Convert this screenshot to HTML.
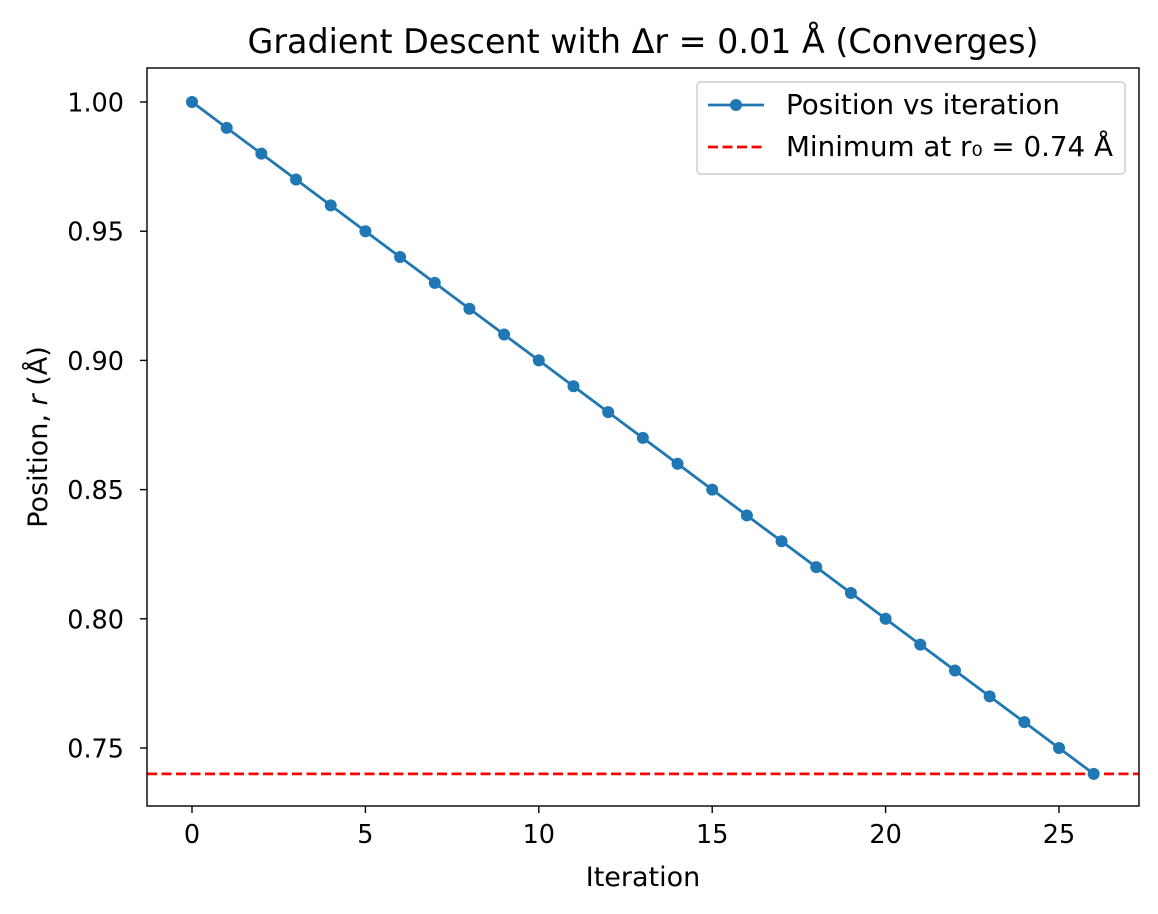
<!DOCTYPE html>
<html><head><meta charset="utf-8"><style>
body{margin:0;background:#fff}
svg{display:block;font-family:"DejaVu Sans","Liberation Sans",sans-serif}
</style></head><body>
<svg id="chart" width="1158" height="914" viewBox="0 0 1158 914" xmlns="http://www.w3.org/2000/svg"></svg>
<script>
const iterations=[0,1,2,3,4,5,6,7,8,9,10,11,12,13,14,15,16,17,18,19,20,21,22,23,24,25,26];
const positions=[1.00,0.99,0.98,0.97,0.96,0.95,0.94,0.93,0.92,0.91,0.90,0.89,0.88,0.87,0.86,0.85,0.84,0.83,0.82,0.81,0.80,0.79,0.78,0.77,0.76,0.75,0.74];
const minimumR=0.74;
const xTicks=[0,5,10,15,20,25];
const yTicks=[0.75,0.80,0.85,0.90,0.95,1.00];
const yTickLabels=["0.75","0.80","0.85","0.90","0.95","1.00"];

const NS="http://www.w3.org/2000/svg";
const svg=document.getElementById('chart');
const L=147,R=1139,T=68,B=806;
const xs=v=>192+(v-0)*(1059-192)/25;
const ys=v=>102+(1.00-v)*(748-102)/0.25;
function mk(tag,attrs,parent){const e=document.createElementNS(NS,tag);for(const k in attrs)e.setAttribute(k,attrs[k]);(parent||svg).appendChild(e);return e;}

const ml=mk('line',{x1:L,x2:R,y1:ys(minimumR),y2:ys(minimumR),stroke:'#ff0000','stroke-width':2.8,'stroke-dasharray':'10,4.5'});



const pl=mk('polyline',{points:iterations.map((it,i)=>xs(it)+','+ys(positions[i])).join(' '),fill:'none',stroke:'#1f77b4','stroke-width':2.8});


iterations.forEach((it,i)=>{
  const c=mk('circle',{cx:xs(it),cy:ys(positions[i]),r:6,fill:'#1f77b4'});
  
  
});

const fr=mk('rect',{x:L,y:T,width:R-L,height:B-T,fill:'none',stroke:'#000','stroke-width':1.4});



xTicks.forEach(v=>{
  const x=xs(v);
  mk('line',{x1:x,x2:x,y1:B,y2:B+7,stroke:'#000','stroke-width':1.4});
  const t=mk('text',{x:x,y:B+37,'text-anchor':'middle','font-size':25.5});
  t.textContent=v;
  
  
});
yTicks.forEach((v,i)=>{
  const y=ys(v);
  mk('line',{x1:L-7,x2:L,y1:y,y2:y,stroke:'#000','stroke-width':1.4});
  const t=mk('text',{x:L-23,y:y+9.5,'text-anchor':'end','font-size':25.5});
  t.textContent=yTickLabels[i];
  
  
});
</script>
<svg style="position:absolute;left:0;top:0" width="1158" height="914" font-family="DejaVu Sans, Liberation Sans, sans-serif">
<text x="643" y="53" text-anchor="middle" font-size="33.4" textLength="791" lengthAdjust="spacingAndGlyphs">Gradient Descent with Δr = 0.01 Å (Converges)</text>
<text x="643" y="886" text-anchor="middle" font-size="27">Iteration</text>
<text transform="translate(47,437) rotate(-90)" text-anchor="middle" font-size="27">Position, <tspan font-style="italic">r</tspan> (Å)</text>
<g>
<rect x="697" y="82" width="428" height="92" rx="4" fill="#fff" fill-opacity="0.8" stroke="#ccc" stroke-width="1.4"/>
<line x1="708" x2="764" y1="105" y2="105" stroke="#1f77b4" stroke-width="2.8"/>
<circle cx="736" cy="105" r="6" fill="#1f77b4"/>
<text x="786" y="114" font-size="27.8" textLength="274" lengthAdjust="spacingAndGlyphs">Position vs iteration</text>
<line x1="708" x2="764" y1="147" y2="147" stroke="#ff0000" stroke-width="2.8" stroke-dasharray="10,4.5"/>
<text x="786" y="156" font-size="27.8" textLength="327" lengthAdjust="spacingAndGlyphs">Minimum at r₀ = 0.74 Å</text>
</g>
</svg>
</body></html>
